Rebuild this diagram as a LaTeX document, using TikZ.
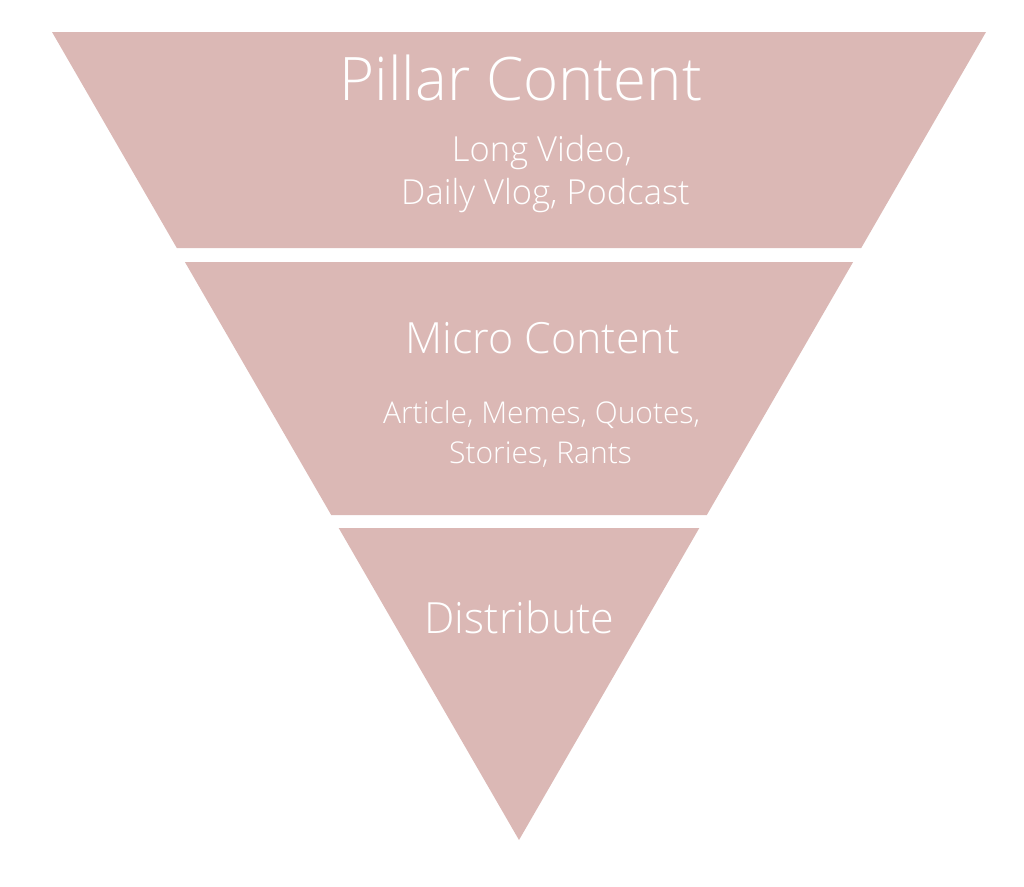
\documentclass[tikz,border=0pt]{standalone}
\usepackage{fontspec}
\setmainfont{Open Sans Light}
\definecolor{funnelpink}{RGB}{219,184,181}

\begin{document}
\begin{tikzpicture}[x=1pt,y=-1pt,
    band/.style={fill=funnelpink, draw=none},
    label/.style={text=white, inner sep=0pt, anchor=base},
  ]
  \useasboundingbox (0,0) rectangle (1024,886);

  % bands of the funnel
  \coordinate (tl) at (52,32);
  \coordinate (tr) at (986,32);
  \coordinate (tip) at (519,840);
  \fill[band] (tl) -- (tr) -- (861.2,248) -- (176.8,248) -- cycle;
  \fill[band] (184.9,262) -- (853.1,262) -- (706.8,515) -- (331.2,515) -- cycle;
  \fill[band] (338.7,528) -- (699.3,528) -- (tip) -- cycle;

  % texts
  \node[label, font=\fontsize{60}{68}\selectfont] (pillar) at (521,100) {Pillar Content};
  \node[label, font=\fontsize{34.5}{40}\selectfont] (pillar1) at (542,161) {Long Video,};
  \node[label, font=\fontsize{34.5}{40}\selectfont] (pillar2) at (545.5,204) {Daily Vlog, Podcast};

  \node[label, font=\fontsize{43}{50}\selectfont] (micro) at (542.5,353) {Micro Content};
  \node[label, font=\fontsize{30}{36}\selectfont] (micro1) at (541.5,423) {Article, Memes, Quotes,};
  \node[label, font=\fontsize{30}{36}\selectfont] (micro2) at (540.5,463) {Stories, Rants};

  \node[label, font=\fontsize{43}{50}\selectfont] (distribute) at (519.5,633) {Distribute};
\end{tikzpicture}
\end{document}
